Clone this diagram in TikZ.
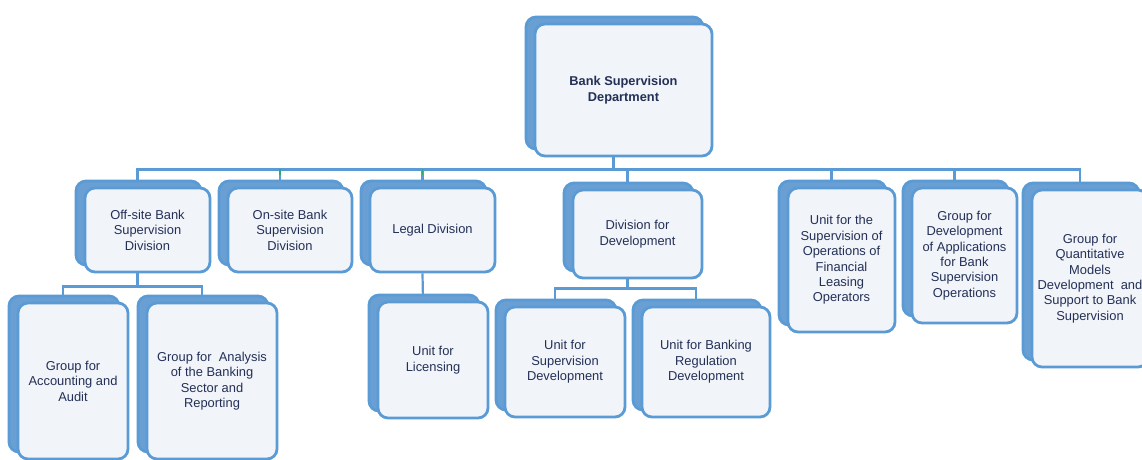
\documentclass[tikz,border=0pt]{standalone}
\usepackage{fontspec}
\setmainfont{Liberation Sans}
\usetikzlibrary{shadows,backgrounds}
\definecolor{boxline}{HTML}{5B9BD5}
\definecolor{boxback}{HTML}{6A9FD3}
\definecolor{boxfill}{HTML}{F1F4F9}
\definecolor{boxtext}{HTML}{243056}
\definecolor{tickgreen}{HTML}{2FA872}
\begin{document}
\begin{tikzpicture}[x=1pt,y=-1pt,
    unit/.style={draw=boxline, line width=2.8pt, fill=boxfill, rounded corners=10pt,
      align=center, inner sep=2pt, text=boxtext,
      font=\fontsize{12.9}{15.4}\selectfont,
      copy shadow={shadow xshift=-9pt, shadow yshift=7pt, fill=boxback, draw=boxline}},
    conn/.style={draw=boxline, line width=2.2pt},
    tick/.style={draw=tickgreen, line width=1.6pt}]
    \useasboundingbox (0,0) rectangle (1142,460);
    \clip (0,0) rectangle (1142,460);

    % head of the department
    \node[unit, minimum width=177pt, minimum height=132pt,
      font=\fontsize{12.8}{15.4}\selectfont\bfseries] (top) at (623.5,90)
      {Bank Supervision\\Department};

    % divisions and units under the head
    \node[unit, minimum width=125pt, minimum height=84pt] (offsite) at (147.5,230)
      {Off-site Bank\\Supervision\\Division};
    \node[unit, minimum width=124pt, minimum height=84pt] (onsite) at (290,230)
      {On-site Bank\\Supervision\\Division};
    \node[unit, minimum width=125pt, minimum height=84pt] (legal) at (432.5,230)
      {Legal Division};
    \node[unit, minimum width=129pt, minimum height=88pt] (devdiv) at (637.5,234)
      {Division for\\Development};
    \node[unit, minimum width=107pt, minimum height=144pt] (leasing) at (841.5,260)
      {Unit for the\\Supervision of\\Operations of\\Financial\\Leasing\\Operators};
    \node[unit, minimum width=105pt, minimum height=135pt] (apps) at (964.5,255.5)
      {Group for\\Development\\of Applications\\for Bank\\Supervision\\Operations};
    \node[unit, minimum width=116pt, minimum height=177pt] (quant) at (1090,278.5)
      {Group for\\Quantitative\\Models\\Development\ \ and\\Support to Bank\\Supervision};

    % groups and units of the second level
    \node[unit, minimum width=110pt, minimum height=156pt] (account) at (73,381)
      {Group for\\Accounting and\\Audit};
    \node[unit, minimum width=130pt, minimum height=156pt] (analysis) at (212,381)
      {Group for\ \ Analysis\\of the Banking\\Sector and\\Reporting};
    \node[unit, minimum width=110pt, minimum height=116pt] (licensing) at (433,360)
      {Unit for\\Licensing};
    \node[unit, minimum width=120pt, minimum height=110pt] (supdev) at (565,362)
      {Unit for\\Supervision\\Development};
    \node[unit, minimum width=128pt, minimum height=110pt] (bankreg) at (706,362)
      {Unit for Banking\\Regulation\\Development};

    \coordinate (tophub) at ([xshift=-10pt,yshift=-12pt]top.south);
    \coordinate (offhub) at ([xshift=-10pt,yshift=-13pt]offsite.south);
    \coordinate (devhub) at ([xshift=-10pt,yshift=-9pt]devdiv.south);

    \begin{scope}[on background layer]
        \draw[conn] ([xshift=-10pt]top.south) -- (tophub);
        \foreach \c in {offsite,onsite,legal,devdiv,leasing,apps,quant}
            \draw[conn] (tophub) -| ([xshift=-10pt]\c.north);
        \draw[conn] ([xshift=-10pt]offsite.south) -- (offhub);
        \draw[conn] (offhub) -| ([xshift=-10pt]account.north);
        \draw[conn] (offhub) -| ([xshift=-10pt]analysis.north);
        \draw[conn] ([xshift=-10pt]legal.south) -- ([xshift=-10pt]licensing.north);
        \draw[conn] ([xshift=-10pt]devdiv.south) -- (devhub);
        \draw[conn] (devhub) -| ([xshift=-10pt]supdev.north);
        \draw[conn] (devhub) -| ([xshift=-10pt]bankreg.north);
    \end{scope}
    \draw[tick] ([xshift=-10pt,yshift=18pt]onsite.north) -- ++(0,6);
    \draw[tick] ([xshift=-10pt,yshift=18pt]legal.north) -- ++(0,6);
\end{tikzpicture}
\end{document}
